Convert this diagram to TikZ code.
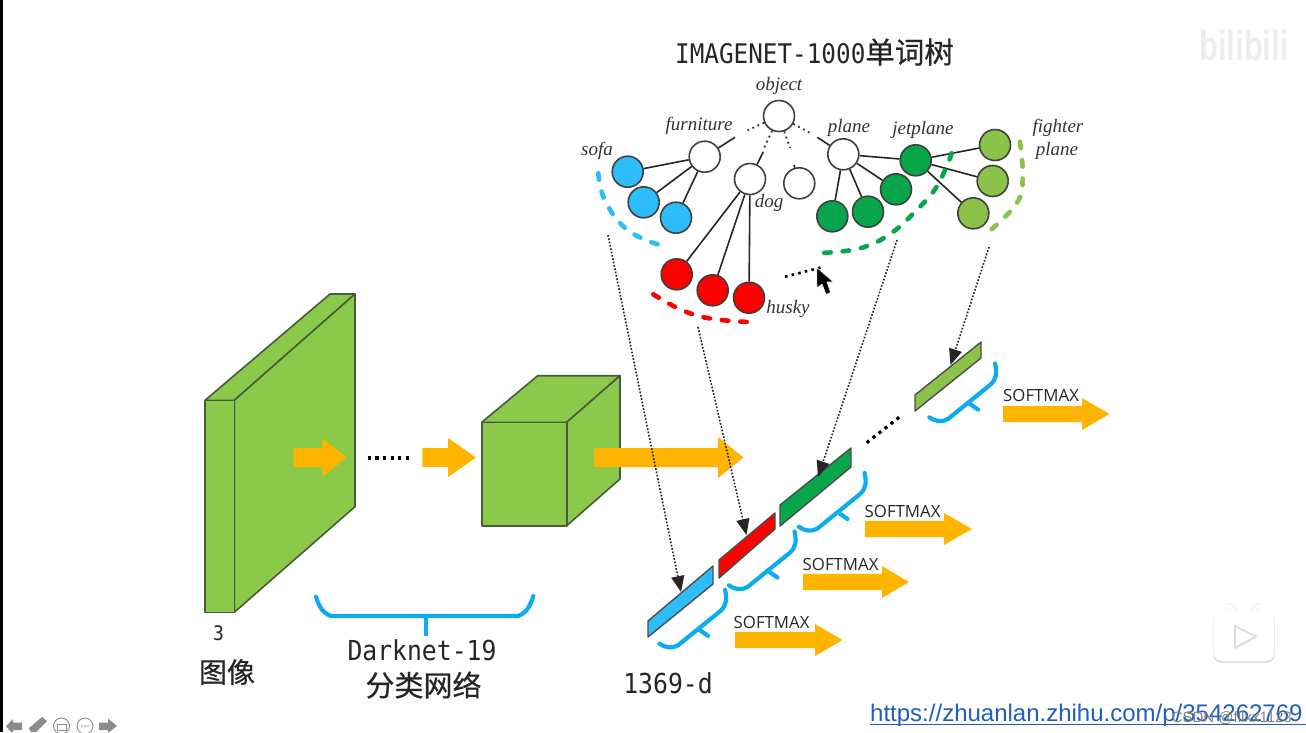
\documentclass[tikz,border=0pt]{standalone}
\usepackage{fontspec}
\usetikzlibrary{arrows.meta}
\setmainfont{Liberation Serif}
\newfontfamily\hei[FakeStretch=0.9]{DejaVu Sans Mono}
\newfontfamily\cjk[FakeBold=0.6]{Noto Sans CJK SC}
\newfontfamily\soft{Open Sans}
\newfontfamily\urlf{Liberation Sans}
\definecolor{boxg}{HTML}{8BC94A}
\definecolor{boxe}{HTML}{4A5A3C}
\definecolor{sky}{HTML}{2EBDFB}
\definecolor{brace}{HTML}{0BADF0}
\definecolor{dgreen}{HTML}{07A64A}
\definecolor{lgreen}{HTML}{8BC34A}
\definecolor{orng}{HTML}{FFB400}
\definecolor{urlc}{HTML}{1E5FBF}
\newcommand\fs[1]{\fontsize{#1}{#1}\selectfont}
\newcommand\barrow[6]{\fill[orng] (#1,#4-#5) -- (#2,#4-#5) -- (#2,#4-#6) -- (#3,#4) -- (#2,#4+#6) -- (#2,#4+#5) -- (#1,#4+#5) -- cycle;}
\tikzset{
  x=1pt,y=-1pt,
  face/.style={fill=boxg,draw=boxe,line width=1.6pt,line join=round},
  tn/.style={circle,draw=black!75,line width=1.6pt,minimum size=31pt,inner sep=0pt,fill=white},
  tsky/.style={tn,fill=sky},
  tred/.style={tn,fill=red},
  tdg/.style={tn,fill=dgreen},
  tlg/.style={tn,fill=lgreen},
  tedge/.style={draw=black!85,line width=1.6pt},
  tdots/.style={draw=black!75,line width=1.9pt,dash pattern=on 1.9pt off 3.6pt},
  lab/.style={font=\itshape\fs{19},text=black!80,inner sep=0pt},
  arc/.style={line width=4.6pt,line cap=round,dash pattern=on 6.5pt off 12pt},
  ptr/.style={draw=black!85,line width=1.6pt,dash pattern=on 1.7pt off 1.7pt,-{Triangle[length=16pt,width=13pt]}},
  bigdots/.style={draw=black,line width=3.2pt,dash pattern=on 3.2pt off 4.4pt},
  seg/.style={draw=black!70,line width=1.4pt,line join=round},
  bracep/.style={draw=brace,line width=4.2pt,line cap=round,line join=round},
  softlab/.style={font=\soft\fs{16.8},text=black!85,inner sep=0pt,anchor=west},
  heit/.style={font=\hei,text=black!85,inner sep=0pt},
}
\begin{document}
\begin{tikzpicture}
\useasboundingbox (0,0) rectangle (1306,732);
\fill[white] (0,0) rectangle (1306,732);
\fill[black] (0,0) rectangle (3,732);

% watermark
\node[font=\urlf\bfseries\fs{31},text=black!7,inner sep=0pt,yscale=1.35,transform shape] (wm) at (1244,46) {bilibili};

% title
\node[heit,anchor=west] (title) at (675,52) {\fs{27}IMAGENET-1000\cjk\fs{29.5}单词树};

% tree nodes
\node[tn] (object) at (779,116) {};
\node[tn] (furniture) at (704.7,156.7) {};
\node[tn] (dog) at (750,179) {};
\node[tn] (other) at (799.3,183.3) {};
\node[tn] (plane) at (843.3,154.3) {};
\node[tdg] (jet) at (915.7,160.3) {};
\node[tlg] (f1) at (995,145) {};
\node[tlg] (f2) at (992.7,181) {};
\node[tlg] (f3) at (973.3,213.3) {};
\node[tsky] (s1) at (627.7,171.7) {};
\node[tsky] (s2) at (643.7,202.3) {};
\node[tsky] (s3) at (676,217.7) {};
\node[tred] (h1) at (676.7,274.3) {};
\node[tred] (h2) at (712.7,290.3) {};
\node[tred] (h3) at (749,297.7) {};
\node[tdg] (p1) at (832.3,216.3) {};
\node[tdg] (p2) at (868,211.7) {};
\node[tdg] (p3) at (896,189.3) {};

\coordinate (cf) at (735,137.3);
\coordinate (cd) at (763.3,151.7);
\coordinate (co) at (794,165);
\coordinate (cp) at (817.3,137.3);
\coordinate (cf2) at (746,131);
\coordinate (cd2) at (764,148);
\coordinate (co2) at (790,148);
\coordinate (cp2) at (812,134);
\draw[tedge] (furniture) -- (cf);
\draw[tedge] (dog) -- (cd);
\draw[tedge] (other) -- (co);
\draw[tedge] (plane) -- (cp);
\draw[tdots] (object) -- (cf2);
\draw[tdots] (object) -- (cd2);
\draw[tdots] (object) -- (co2);
\draw[tdots] (object) -- (cp2);
\foreach \a/\b in {furniture/s1,furniture/s2,furniture/s3,dog/h1,dog/h2,dog/h3,plane/p1,plane/p2,plane/p3,plane/jet,jet/f1,jet/f2,jet/f3}
  {\draw[tedge] (\a) -- (\b);}

% labels
\node[lab] (l1) at (779,86) {object};
\node[lab] (l2) at (699,126) {furniture};
\node[lab] (l3) at (849,128) {plane};
\node[lab] (l4) at (923,130) {jetplane};
\node[lab] (l5) at (1058,128) {fighter};
\node[lab] (l6) at (1057,151) {plane};
\node[lab] (l7) at (597,151) {sofa};
\node[lab] (l8) at (769,203) {dog};
\node[lab] (l9) at (788,309) {husky};

% dashed arcs
\draw[arc,draw=sky] plot[smooth,tension=0.7] coordinates {(598.3,173.3) (603.5,197) (620,223) (642,238.5) (665,246)};
\draw[arc,draw=dgreen] plot[smooth,tension=0.7] coordinates {(951.7,153.3) (936.7,186.7) (915,211.7) (890,234) (860,248.3) (821,253)};
\draw[arc,draw=lgreen] plot[smooth,tension=0.7] coordinates {(1020,141.7) (1022.7,176.7) (1016.7,203.3) (987,233.3)};
\draw[arc,draw=red] plot[smooth,tension=0.7] coordinates {(653.3,294.3) (683.3,310.7) (713.3,319) (755,322.3)};

% pointer and dots
\draw[bigdots,line width=2.6pt,dash pattern=on 2.6pt off 4.2pt] (785,276.7) -- (821.7,267.3);
\fill[black,draw=white,line width=0.6pt,line join=round] (816.7,267.5) -- (817,288) -- (822,284) -- (826,294.5) -- (830.5,292.5) -- (827,282) -- (833.5,282) -- cycle;

% big slab
\draw[face] (205,400.3) -- (234.3,400.3) -- (355,294) -- (330,294) -- cycle;
\draw[face] (234.3,400.3) -- (355,294) -- (355,506.7) -- (234.3,612.3) -- cycle;
\draw[face] (205,400.3) rectangle (234.3,612.3);
% cube
\draw[face] (481.7,422.3) -- (566.7,422.3) -- (620,375.7) -- (537.7,375.7) -- cycle;
\draw[face] (566.7,422.3) -- (620,375.7) -- (620,479) -- (566.7,525.7) -- cycle;
\draw[face] (481.7,422.3) rectangle (566.7,525.7);

% orange arrows
\barrow{293.3}{322.3}{346.7}{457.5}{9.3}{19.5}
\barrow{422.3}{448}{476}{457.5}{9.3}{19.5}
\barrow{594}{718}{743.5}{457.5}{9.5}{20.5}
\barrow{1003}{1082}{1109.5}{414}{8.2}{16}
\barrow{865}{944}{972}{529}{8.2}{16}
\barrow{803}{882}{909}{582}{8.2}{16}
\barrow{735}{815}{842.5}{640}{8.2}{16}
\draw[bigdots] (367.7,458) -- (410,458);
\draw[bigdots] (866.7,442.7) -- (902,415);

% bars
\draw[seg,fill=lgreen] (915,395) -- (981,342) -- (981,358) -- (915,411) -- cycle;
\draw[seg,fill=dgreen] (780,505) -- (851,448) -- (851,467) -- (780,526) -- cycle;
\draw[seg,fill=red] (719,560) -- (775,513) -- (775,529) -- (719,578) -- cycle;
\draw[seg,fill=sky] (648,621) -- (713,566) -- (713,584) -- (648,637) -- cycle;

% dotted pointers
\coordinate (a1) at (608,235);
\coordinate (b1) at (681,592);
\coordinate (a2) at (698,327);
\coordinate (b2) at (746.5,535);
\coordinate (a3) at (897,240);
\coordinate (b3) at (818,477);
\coordinate (a4) at (989,247);
\coordinate (b4) at (950.5,365);
\draw[ptr] (a1) -- (b1);
\draw[ptr] (a2) -- (b2);
\draw[ptr] (a3) -- (b3);
\draw[ptr] (a4) -- (b4);

% braces
\foreach \dx/\dy in {0/0,-130.5/109.5,-200.5/168,-270/226.3}{
  \begin{scope}[shift={(\dx,\dy)}]
    \draw[bracep] (929.3,417.3) .. controls (935,421.5) and (942,422.5) .. (948,419) -- (990,385) .. controls (997,379) and (997,372) .. (995,363.5);
    \draw[bracep] (968.5,403) -- (978,409.5);
  \end{scope}
}
\draw[bracep] (316,596.7) .. controls (319,607) and (323,613) .. (331,616) -- (518,616) .. controls (526,613) and (530,607) .. (533.3,596);
\draw[bracep,line cap=butt] (425.7,616) -- (425.7,635.5);

% softmax labels
\node[softlab] (sm1) at (1003,395) {SOFTMAX};
\node[softlab] (sm2) at (864.5,511) {SOFTMAX};
\node[softlab] (sm3) at (802.5,564) {SOFTMAX};
\node[softlab] (sm4) at (733.5,622) {SOFTMAX};

% text
\node[heit] (n3) at (218.5,633) {\fs{20}3};
\node[heit] (img) at (227,672) {\cjk\fs{28}图像};
\node[heit] (dn) at (422,650) {\fs{27.5}Darknet-19};
\node[heit] (cl) at (423.5,685) {\cjk\fs{29}分类网络};
\node[heit] (d1369) at (668,683) {\fs{27.5}1369-d};

% nav icons
\fill[black!45] (6,726) -- (13,719) -- (13,722.5) -- (22,722.5) -- (22,730) -- (13,730) -- (13,732) -- (11,732) -- cycle;
\fill[black!45] (31,732) -- (29,728) -- (42,717) -- (47,721) -- (36,732) -- cycle;
\draw[black!45,line width=0.9pt] (61.5,726) circle (8);
\draw[black!45,line width=0.7pt] (57,724) rectangle (66,730);
\draw[black!45,line width=0.9pt] (85,726) circle (8);
\fill[black!45] (82,726) circle (0.9) (85,726) circle (0.9) (88,726) circle (0.9);
\fill[black!45] (99,722.5) -- (108,722.5) -- (108,718.5) -- (117,726) -- (108,733) -- (108,730) -- (99,730) -- cycle;

% play badge
\draw[black!10,line width=5pt,line cap=round] (1229,605.5) -- (1236,613);
\draw[black!10,line width=5pt,line cap=round] (1258,605.5) -- (1251,613);
\draw[white,line width=4pt,line cap=round] (1229,605.5) -- (1236,613);
\draw[white,line width=4pt,line cap=round] (1258,605.5) -- (1251,613);
\fill[black!12] (1213.5,612) [rounded corners=8pt] rectangle (1274.5,663);
\fill[white] (1214,611) [rounded corners=8pt] rectangle (1274,661);
\draw[black!14,line width=1.8pt,line join=round,fill=white] (1235,626) -- (1256,636.7) -- (1235,648) -- cycle;

% url
\node[font=\urlf\fs{24},text=urlc,inner sep=0pt,anchor=base west] (url) at (870,721) {https://zhuanlan.zhihu.com/p/354262769};
\draw[urlc,line width=1.2pt] (870,724.5) -- (1306,724.5);
\node[font=\urlf\fs{15},text=black!50,inner sep=0pt,anchor=base east] (csdn) at (1292,722) {CSDN @fllxx1123};
\end{tikzpicture}
\end{document}
